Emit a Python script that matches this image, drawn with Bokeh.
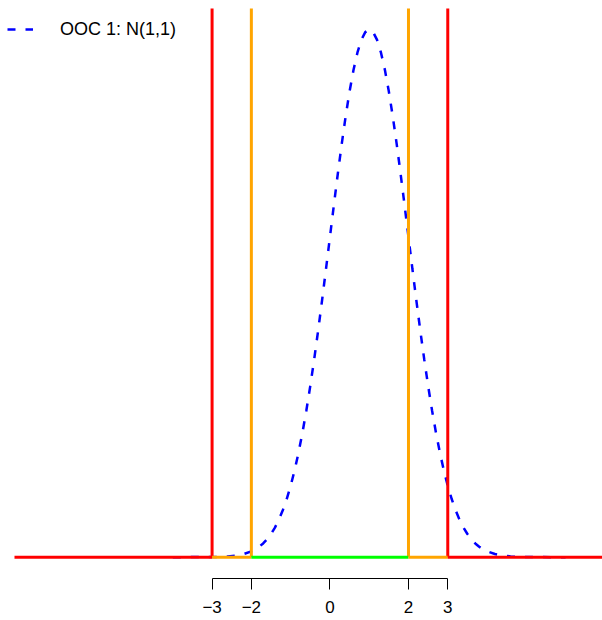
from bokeh.plotting import figure
from bokeh.models import (Range1d, LinearAxis, FixedTicker, Legend, LegendItem,
                          ColumnDataSource)
from bokeh.embed import file_html
from bokeh.resources import INLINE

# ---- data ----
# density of the out-of-control distribution N(1,1)
curve_x = [-4.0, -3.0, -2.8, -2.6, -2.4, -2.2, -2.0, -1.9, -1.8, -1.7, -1.6,
           -1.5, -1.4, -1.3, -1.2, -1.1, -1.0, -0.9, -0.8, -0.7, -0.6, -0.5,
           -0.4, -0.3, -0.2, -0.1, 0.0, 0.1, 0.2, 0.3, 0.4, 0.5, 0.6, 0.7,
           0.8, 0.9, 1.0, 1.1, 1.2, 1.3, 1.4, 1.5, 1.6, 1.7, 1.8, 1.9, 2.0,
           2.1, 2.2, 2.3, 2.4, 2.5, 2.6, 2.7, 2.8, 2.9, 3.0, 3.1, 3.2, 3.3,
           3.4, 3.5, 3.6, 3.7, 3.8, 3.9, 4.0, 4.2, 4.4, 4.6, 4.8, 5.0, 6.0]
curve_y = [0.0, 0.00013, 0.00029, 0.00061, 0.00123, 0.00238, 0.00443, 0.00595,
           0.00792, 0.01042, 0.01358, 0.01753, 0.02239, 0.02833, 0.03547,
           0.04398, 0.05399, 0.06562, 0.07895, 0.09405, 0.11092, 0.12952,
           0.14973, 0.17137, 0.19419, 0.21785, 0.24197, 0.26609, 0.28969,
           0.31225, 0.33322, 0.35207, 0.36827, 0.38139, 0.39104, 0.39695,
           0.39894, 0.39695, 0.39104, 0.38139, 0.36827, 0.35207, 0.33322,
           0.31225, 0.28969, 0.26609, 0.24197, 0.21785, 0.19419, 0.17137,
           0.14973, 0.12952, 0.11092, 0.09405, 0.07895, 0.06562, 0.05399,
           0.04398, 0.03547, 0.02833, 0.02239, 0.01753, 0.01358, 0.01042,
           0.00792, 0.00595, 0.00443, 0.00238, 0.00123, 0.00061, 0.00029,
           0.00013, 0.0]
curve_label = "OOC 1: N(1,1)"

control_limits = [-3, 3]
warning_limits = [-2, 2]

# horizontal zone line: starts at the original plot region's left edge
zone_start = [-8.03, -3, -2, 2, 3]
zone_end = [-3, -2, 2, 3, 10]
zone_color = ["#FF0000", "#FFA500", "#00FF00", "#FFA500", "#FF0000"]

tick_values = [-3, -2, 0, 2, 3]
tick_labels = {-3: "\u22123", -2: "\u22122", 0: "0", 2: "2", 3: "3"}

# ---- figure ----
X0, X1 = -8.208, 6.939
Y0, Y1 = -0.0161, 0.4148

p = figure(frame_width=595, frame_height=570,
           x_range=Range1d(X0, X1), y_range=Range1d(Y0, Y1),
           x_axis_type=None, y_axis_type=None,
           toolbar_location=None, output_backend="svg",
           min_border_left=7, min_border_right=0, min_border_top=8,
           min_border_bottom=42)
p.outline_line_color = None
p.background_fill_color = "white"
p.border_fill_color = "white"

curve = p.line(curve_x, curve_y, line_color="#0000FF", line_width=2.5,
               line_dash="8 10")

p.segment(x0=control_limits, y0=0, x1=control_limits, y1=Y1 + 1,
          line_color="#FF0000", line_width=3)
p.segment(x0=warning_limits, y0=0, x1=warning_limits, y1=Y1 + 1,
          line_color="#FFA500", line_width=3)

zones = ColumnDataSource(dict(x0=zone_start, x1=zone_end, c=zone_color))
p.segment(x0="x0", y0=0, x1="x1", y1=0, line_color="c", line_width=3,
          source=zones)

xaxis = LinearAxis(ticker=FixedTicker(ticks=tick_values, minor_ticks=[]),
                   bounds=(-3, 3))
xaxis.major_tick_out = 11
xaxis.major_tick_in = 0
xaxis.minor_tick_out = 0
xaxis.minor_tick_in = 0
xaxis.axis_line_color = "black"
xaxis.major_tick_line_color = "black"
xaxis.major_label_standoff = 11
xaxis.major_label_text_font = "Liberation Sans"
xaxis.major_label_text_font_size = "17px"
xaxis.major_label_text_color = "black"
xaxis.major_label_overrides = tick_labels
p.add_layout(xaxis, "below")

legend = Legend(items=[LegendItem(label=curve_label, renderers=[curve])],
                location=(0, 537), glyph_width=26, glyph_height=24,
                label_height=24, label_standoff=27, padding=0, margin=0,
                spacing=0, border_line_color=None, background_fill_alpha=0,
                label_text_font="Liberation Sans",
                label_text_font_size="18px", label_text_color="black")
p.add_layout(legend)

open("out.html", "w").write(file_html(p, INLINE))
